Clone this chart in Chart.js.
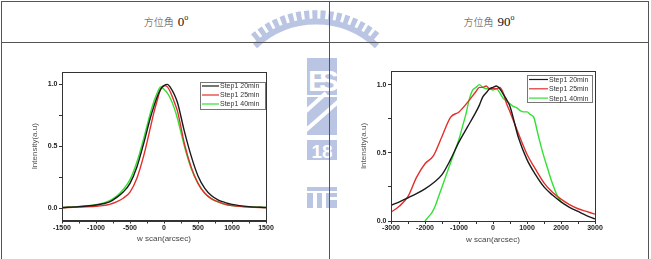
<!DOCTYPE html>
<html>
<head>
<meta charset="utf-8">
<script src="https://cdn.jsdelivr.net/npm/chart.js@4.4.1/dist/chart.umd.min.js"></script>
<style>
  body { margin: 0; background: #fff; }
  #page { position: relative; width: 651px; height: 259px; overflow: hidden; }
  .line { position: absolute; background: #555; }
  .head { position: absolute; top: 12px; width: 320px; text-align: center; color: #111; }
  .head .cjk { font-family: "Noto Sans CJK TC", sans-serif; font-size: 10px; font-weight: 300; color: #444; }
  .head .num { font-family: "Liberation Serif", serif; font-size: 13px; color: #111; }
  .head sup { font-family: "Liberation Serif", serif; font-size: 8px; color: #111; }
  canvas { position: absolute; }
  #wm { position: absolute; left: 0; top: 0; opacity: 0.8; }
</style>
</head>
<body>
<div id="page">
  <svg id="wm" width="651" height="259">
    <g fill="#a9b7dd">
      <path d="M 255 46 A 88 88 0 0 1 377 46" stroke="#a9b7dd" stroke-width="6" fill="none"/>
      <path d="M 254 38 A 94 94 0 0 1 378 38" stroke="#a9b7dd" stroke-width="9" stroke-dasharray="5 3" fill="none"/>
      <rect x="307" y="58" width="30" height="37"/>
      <rect x="307" y="97" width="30" height="38"/>
      <rect x="307" y="140" width="30" height="20"/>
      <rect x="307" y="187" width="30" height="4"/>
      <rect x="307" y="193" width="6" height="15"/>
      <rect x="317" y="193" width="5" height="15"/>
      <rect x="326" y="193" width="11" height="15"/>
    </g>
    <g fill="#fff" font-family="Liberation Sans" font-weight="bold">
      <text x="308" y="91" font-size="30">E</text>
      <text x="319" y="91" font-size="30">S</text>
      <text x="322" y="158" font-size="19" text-anchor="middle">18</text>
      <rect x="329" y="197" width="8" height="3"/>
    </g>
    <g stroke="#fff" stroke-width="4">
      <line x1="305" y1="131" x2="339" y2="101"/>
      <line x1="305" y1="112" x2="326" y2="93"/>
    </g>
  </svg>

  <div class="line" style="left:1px;top:1px;width:648px;height:1px"></div>
  <div class="line" style="left:1px;top:42px;width:648px;height:1px"></div>
  <div class="line" style="left:1px;top:1px;width:1px;height:258px"></div>
  <div class="line" style="left:329px;top:1px;width:1px;height:258px"></div>
  <div class="line" style="left:648px;top:1px;width:1px;height:258px"></div>

  <div class="head" style="left:6px"><span class="cjk">方位角</span> <span class="num">0</span><sup>o</sup></div>
  <div class="head" style="left:329px"><span class="cjk">方位角</span> <span class="num">90</span><sup>o</sup></div>

  <canvas id="leftChart" width="325" height="214" style="left:3px;top:44px"></canvas>
  <canvas id="rightChart" width="316" height="214" style="left:331px;top:44px"></canvas>
</div>
<script>
// series labels and colours
const seriesLabels = ["Step1 20min", "Step1 25min", "Step1 40min"];
const seriesColors = ["#1a1a1a", "#e0302c", "#33e033"];

// azimuth 0 deg
const leftX = [-1500, -1250, -1000, -900, -800, -700, -600, -500, -400, -300, -200, -150, -100, -50, 0, 50, 100, 150, 200, 300, 400, 500, 600, 700, 800, 900, 1000, 1250, 1500];
const left20 = [0.005, 0.012, 0.025, 0.035, 0.05, 0.085, 0.13, 0.2, 0.33, 0.52, 0.73, 0.82, 0.9, 0.96, 0.99, 1.0, 0.97, 0.92, 0.85, 0.62, 0.42, 0.26, 0.16, 0.1, 0.065, 0.045, 0.03, 0.012, 0.005];
const left25 = [0.003, 0.008, 0.015, 0.02, 0.03, 0.05, 0.08, 0.13, 0.24, 0.42, 0.65, 0.77, 0.87, 0.96, 0.99, 0.98, 0.93, 0.86, 0.78, 0.52, 0.33, 0.2, 0.12, 0.075, 0.05, 0.03, 0.02, 0.008, 0.004];
const left40 = [0.005, 0.013, 0.028, 0.04, 0.06, 0.095, 0.15, 0.23, 0.37, 0.56, 0.77, 0.86, 0.93, 0.98, 0.96, 0.93, 0.88, 0.81, 0.72, 0.5, 0.32, 0.2, 0.12, 0.075, 0.048, 0.03, 0.02, 0.01, 0.005];
const leftXTicks = [-1500, -1000, -500, 0, 500, 1000, 1500];
const leftXMinor = [-1250, -750, -250, 250, 750, 1250];
const leftYTicks = [0, 0.5, 1.0];
const leftYMinor = [0.25, 0.75];

// azimuth 90 deg
const rightX = [-3000, -2750, -2500, -2250, -2000, -1750, -1500, -1250, -1000, -750, -500, -400, -300, -200, -100, 0, 100, 200, 300, 400, 500, 750, 1000, 1250, 1500, 1750, 2000, 2250, 2500, 2750, 3000];
const right20 = [0.115, 0.14, 0.17, 0.2, 0.235, 0.28, 0.34, 0.45, 0.58, 0.69, 0.8, 0.85, 0.91, 0.94, 0.97, 0.98, 0.99, 0.97, 0.93, 0.89, 0.84, 0.61, 0.45, 0.34, 0.25, 0.19, 0.14, 0.1, 0.07, 0.04, 0.015];
const right25 = [0.065, 0.11, 0.18, 0.32, 0.42, 0.48, 0.62, 0.76, 0.8, 0.87, 0.95, 0.98, 0.98, 0.99, 0.97, 0.97, 0.97, 0.98, 0.94, 0.86, 0.8, 0.64, 0.49, 0.38, 0.28, 0.21, 0.16, 0.12, 0.09, 0.07, 0.05];
const right40X = [-2000, -1900, -1800, -1700, -1600, -1500, -1400, -1300, -1200, -1100, -1000, -900, -800, -700, -600, -500, -400, -300, -200, -100, 0, 100, 200, 300, 400, 500, 600, 700, 800, 900, 1000, 1100, 1200, 1300, 1400, 1500, 1600, 1700, 1800, 1900, 2000];
const right40 = [0.0, 0.03, 0.06, 0.11, 0.18, 0.25, 0.32, 0.39, 0.46, 0.53, 0.6, 0.69, 0.78, 0.89, 0.96, 0.98, 1.0, 0.98, 0.97, 0.97, 0.96, 0.97, 0.94, 0.9, 0.88, 0.86, 0.84, 0.83, 0.81, 0.8, 0.8, 0.78, 0.76, 0.66, 0.56, 0.47, 0.39, 0.31, 0.24, 0.18, 0.14];
const rightXTicks = [-3000, -2000, -1000, 0, 1000, 2000, 3000];
const rightXMinor = [-2500, -1500, -500, 500, 1500, 2500];
const rightYTicks = [0, 0.5, 1.0];
const rightYMinor = [0.25, 0.75];

const toPoints = (xs, ys) => xs.map((x, i) => ({ x, y: ys[i] }));

// frame around the plot area
const frame = {
    id: "frame",
    afterDraw(chart) {
        const { ctx, chartArea: a } = chart;
        ctx.save();
        ctx.strokeStyle = "#333";
        ctx.lineWidth = 1;
        ctx.strokeRect(Math.round(a.left) + 0.5, Math.round(a.top) + 0.5, Math.round(a.right - a.left), Math.round(a.bottom - a.top));
        ctx.restore();
    }
};

// Origin style legend box inside the plot
const legendBox = {
    id: "legendBox",
    afterDatasetsDraw(chart, args, o) {
        const { ctx, chartArea: a } = chart;
        const x = Math.round(a.right - o.right - o.width);
        const y = Math.round(a.top + o.top);
        ctx.save();
        ctx.fillStyle = "#fff";
        ctx.fillRect(x, y, o.width, o.height);
        ctx.strokeStyle = "#777";
        ctx.lineWidth = 1;
        ctx.strokeRect(x + 0.5, y + 0.5, o.width, o.height);
        ctx.font = '7px "Liberation Sans"';
        ctx.textBaseline = "middle";
        chart.data.datasets.forEach((ds, i) => {
            const ry = y + o.rowTop + i * o.rowGap;
            ctx.strokeStyle = ds.borderColor;
            ctx.lineWidth = 1.2;
            ctx.beginPath();
            ctx.moveTo(x + 2, ry);
            ctx.lineTo(x + 2 + o.lineLen, ry);
            ctx.stroke();
            ctx.fillStyle = "#333";
            ctx.fillText(ds.label, x + 3 + o.lineLen, ry + 0.5);
        });
        ctx.restore();
    }
};

function makeChart(id, series, cfg) {
    const tickFont = { family: "Liberation Sans", size: 7, weight: "bold" };
    const titleFont = { family: "Liberation Sans", size: 8, lineHeight: 1 };
    return new Chart(document.getElementById(id), {
        type: "line",
        data: {
            datasets: series.map((pts, i) => ({
                label: seriesLabels[i],
                data: pts,
                borderColor: seriesColors[i],
                borderWidth: 1.4,
                pointRadius: 0,
                cubicInterpolationMode: "monotone",
                fill: false
            }))
        },
        options: {
            responsive: false,
            animation: false,
            layout: { padding: cfg.padding },
            plugins: {
                legend: { display: false },
                tooltip: { enabled: false },
                legendBox: cfg.legend
            },
            scales: {
                x: {
                    type: "linear",
                    min: cfg.xMin, max: cfg.xMax,
                    afterBuildTicks: s => { s.ticks = cfg.xTicks.concat(cfg.xMinor).sort((a, b) => a - b).map(v => ({ value: v })); },
                    afterFit: s => { s.height = 30; s.paddingLeft = 0; s.paddingRight = 0; },
                    ticks: {
                        font: tickFont, color: "#222", padding: 0, maxRotation: 0, autoSkip: false,
                        callback: v => cfg.xTicks.includes(v) ? String(v) : ""
                    },
                    grid: { drawOnChartArea: false, tickLength: 3, color: "#333" },
                    border: { color: "#333" },
                    title: { display: true, text: "w scan(arcsec)", font: titleFont, color: "#444", padding: { top: 0, bottom: cfg.xTitlePad } }
                },
                y: {
                    type: "linear",
                    min: cfg.yMin, max: cfg.yMax,
                    afterBuildTicks: s => { s.ticks = cfg.yTicks.concat(cfg.yMinor).sort((a, b) => a - b).map(v => ({ value: v })); },
                    afterFit: s => { s.width = 31; s.paddingTop = 0; s.paddingBottom = 0; },
                    ticks: {
                        font: tickFont, color: "#222", padding: 1.5, autoSkip: false,
                        callback: v => cfg.yTicks.includes(v) ? v.toFixed(1) : ""
                    },
                    grid: { drawOnChartArea: false, tickLength: 3, color: "#333" },
                    border: { color: "#333" },
                    title: { display: true, text: "Intensity(a.u)", font: titleFont, color: "#555", padding: { top: 0, bottom: 0 } }
                }
            }
        },
        plugins: [frame, legendBox]
    });
}

makeChart("leftChart", [toPoints(leftX, left20), toPoints(leftX, left25), toPoints(leftX, left40)], {
    padding: { left: 28, top: 28, right: 62, bottom: 7.5 },
    xMin: -1500, xMax: 1500, yMin: -0.1, yMax: 1.1,
    xTicks: leftXTicks, xMinor: leftXMinor, yTicks: leftYTicks, yMinor: leftYMinor,
    xTitlePad: 7.5,
    legend: { right: 1, top: 10, width: 65, height: 27, rowTop: 4, rowGap: 9, lineLen: 17 }
});

makeChart("rightChart", [toPoints(rightX, right20), toPoints(rightX, right25), toPoints(right40X, right40)], {
    padding: { left: 29, top: 27, right: 52, bottom: 7 },
    xMin: -3000, xMax: 3000, yMin: 0, yMax: 1.1,
    xTicks: rightXTicks, xMinor: rightXMinor, yTicks: rightYTicks, yMinor: rightYMinor,
    xTitlePad: 7,
    legend: { right: 3, top: 4, width: 65, height: 27, rowTop: 4.5, rowGap: 9.3, lineLen: 19 }
});
</script>
</body>
</html>
